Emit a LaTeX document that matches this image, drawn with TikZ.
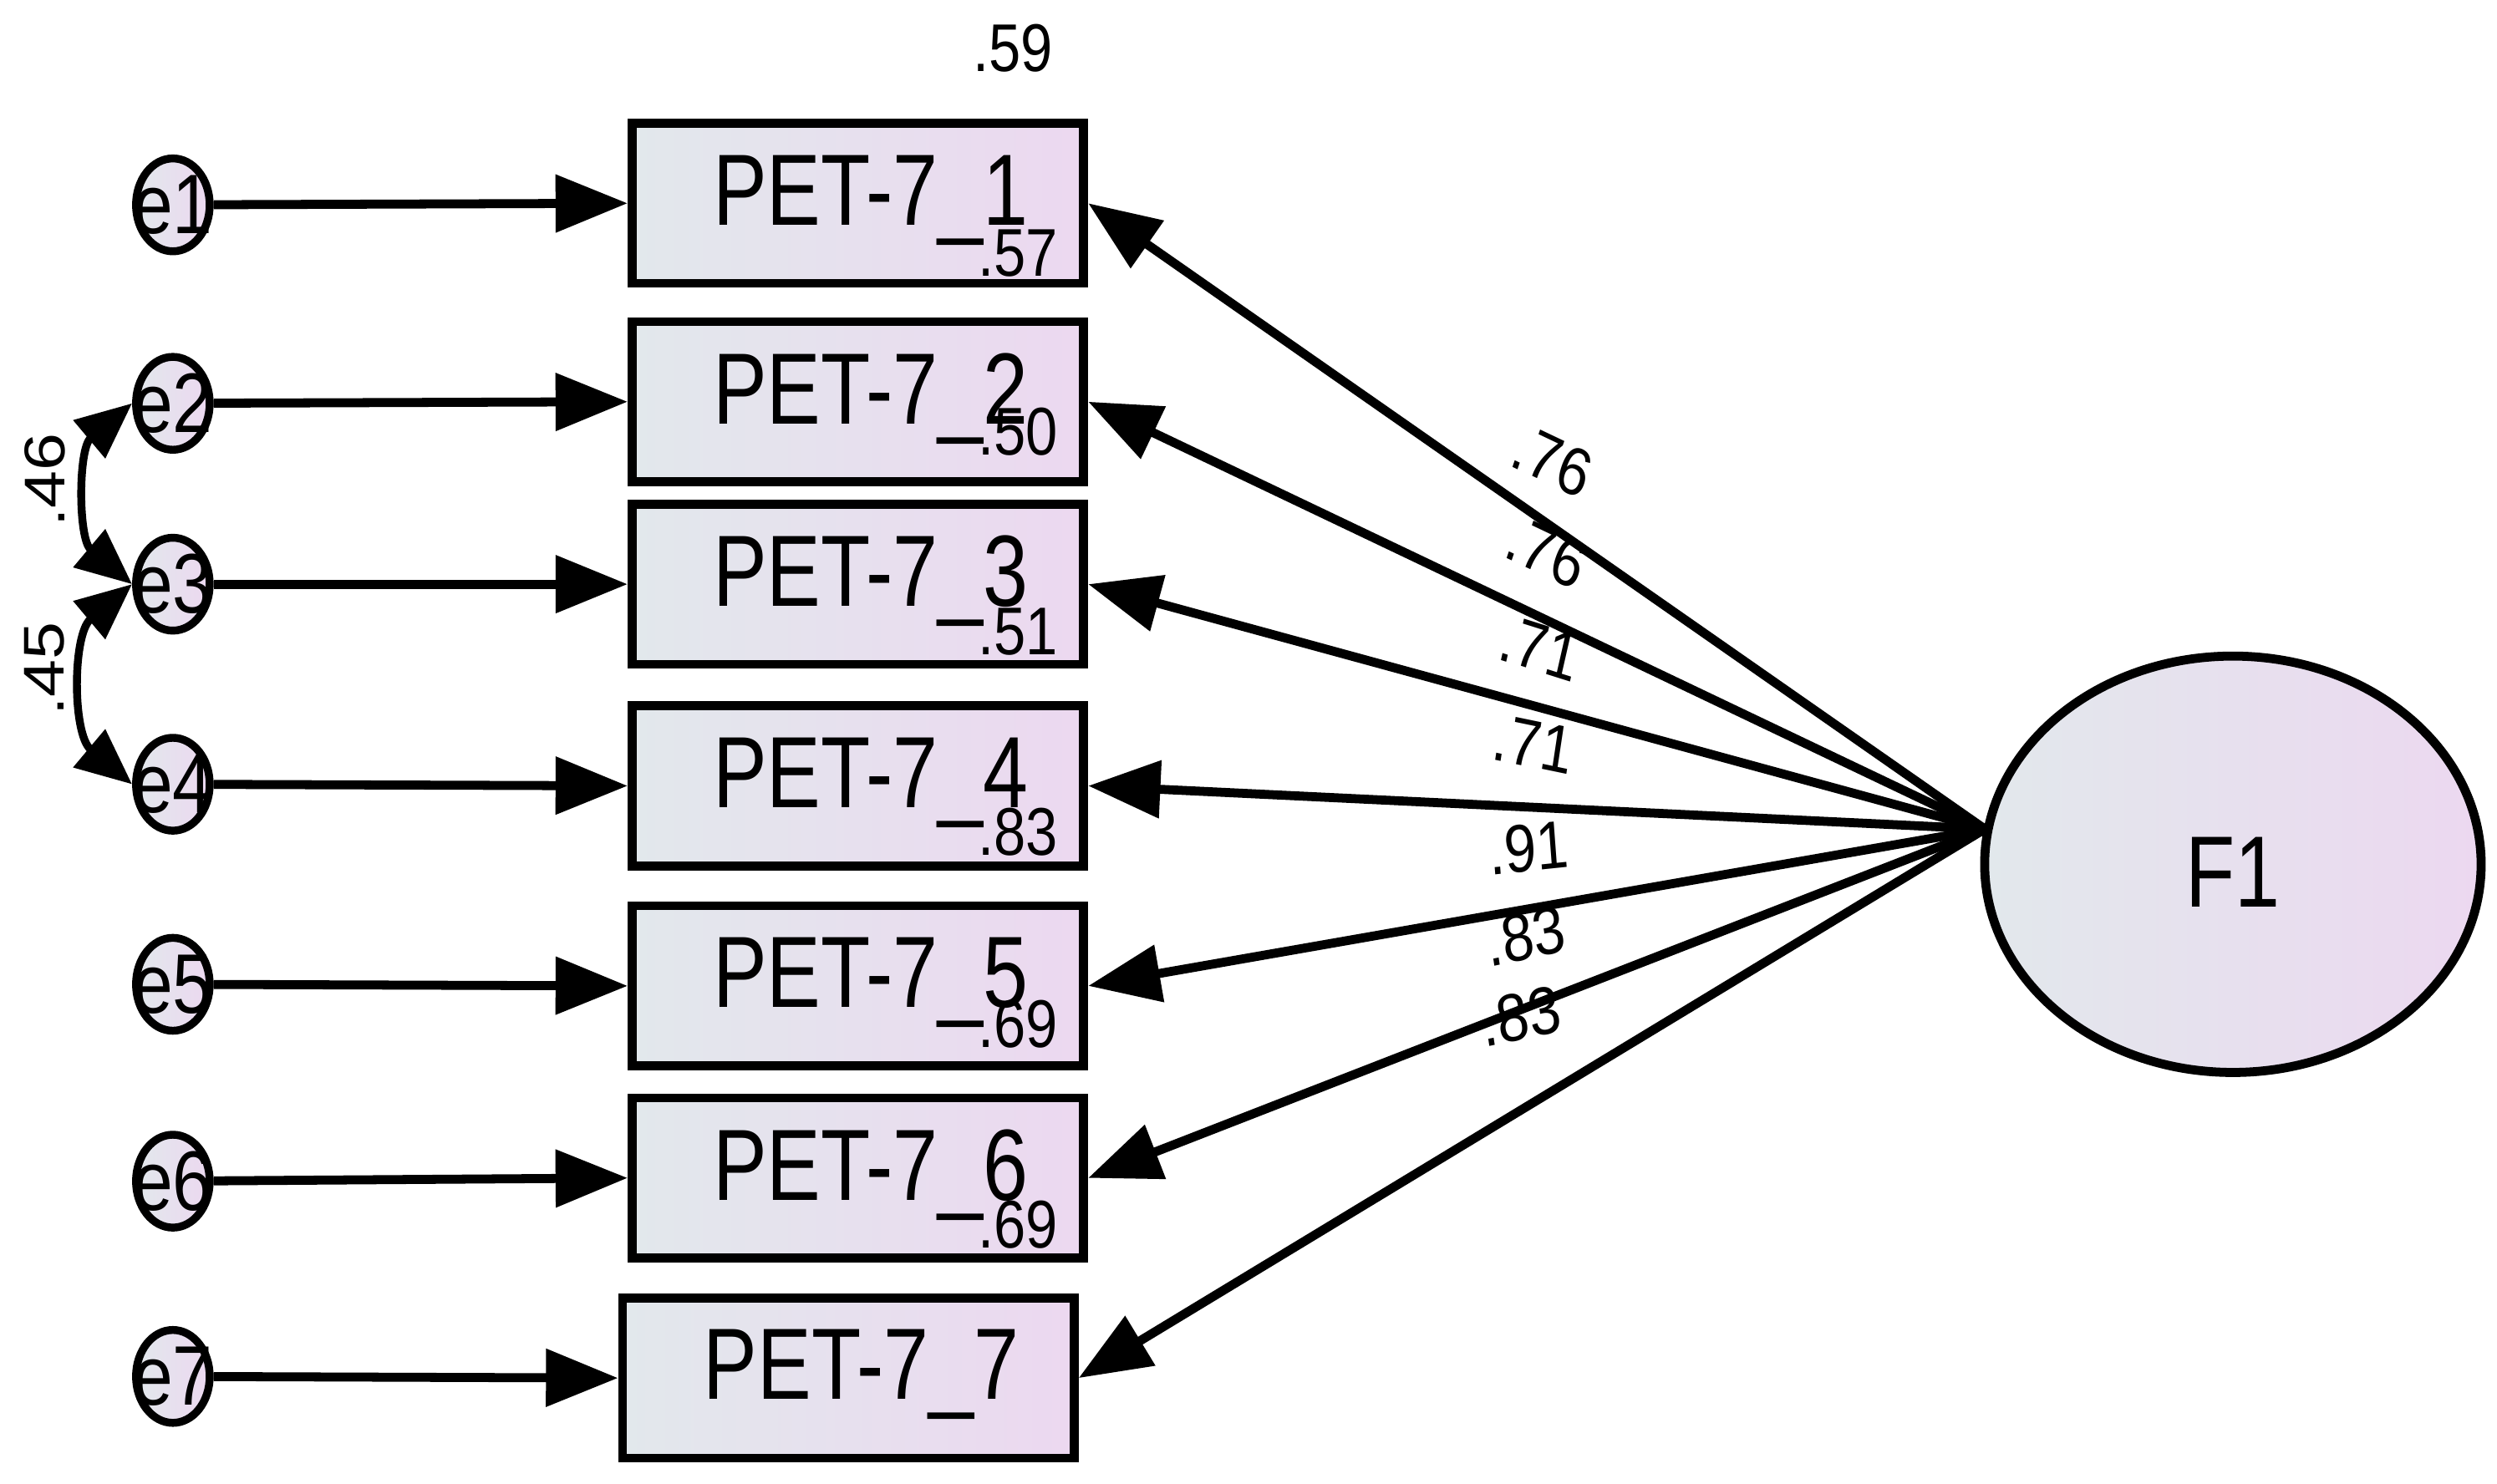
\documentclass[tikz,border=0pt]{standalone}
\usepackage{fontspec}
\setmainfont{Liberation Sans}
\usetikzlibrary{arrows.meta,shapes.geometric}
\definecolor{lav}{RGB}{236,216,240}
\definecolor{gr}{RGB}{226,232,236}
\begin{document}
\begin{tikzpicture}[x=0.01cm,y=-0.01cm,
 box/.style={draw,line width=1.6pt,left color=gr,right color=lav,minimum width=2.82cm,minimum height=1.0cm,inner sep=0pt},
 err/.style={draw,line width=1.4pt,ellipse,left color=gr,right color=lav,minimum width=0.46cm,minimum height=0.58cm,inner sep=0pt},
 arr/.style={line width=1.6pt,-{Triangle[length=0.45cm,width=0.35cm]}},
 bt/.style={font=\fontsize{18}{18}\selectfont,xscale=0.8},
 lt/.style={font=\fontsize{12}{12}\selectfont,xscale=0.85,inner sep=0pt}]
\useasboundingbox (0,0) rectangle (1560,927);
\foreach \i/\y in {1/128,2/252,3/365,4/490,5/615,6/738,7/860}{
  \node[err] (e\i) at (108,\y) {};
  \node[font=\fontsize{15}{15}\selectfont,xscale=0.85] (te\i) at (108,\y) {e\i};
}
\foreach \i/\y/\x in {1/127/536,2/251/536,3/365/536,4/491/536,5/616/536,6/736/536,7/861/530}{
  \node[box] (p\i) at (\x,\y) {};
  \node[bt] (tp\i) at (\x+8,\y-2) {PET-7\_\i};
  \draw[arr] (e\i) -- (p\i.west);
}
\node[draw,line width=1.6pt,ellipse,left color=gr,right color=lav,minimum width=3.1cm,minimum height=2.6cm] (F) at (1395,540) {};
\node[bt] (tF) at (1395,545) {F1};
\coordinate (c) at (1240,518);
\foreach \i in {1,...,7}{ \draw[arr] (c) -- (p\i.east); }
\draw[line width=1.4pt,{Triangle[length=0.35cm,width=0.3cm]}-{Triangle[length=0.35cm,width=0.3cm]}] (e2.west) to[bend right=50] (e3.west);
\draw[line width=1.4pt,{Triangle[length=0.35cm,width=0.3cm]}-{Triangle[length=0.35cm,width=0.3cm]}] (e3.west) to[bend right=50] (e4.west);
\node[lt,rotate=90] (l46) at (28,300) {.46};
\node[lt,rotate=90] (l45) at (28,418) {.45};
\node[lt] (r7) at (633,30) {.59};
\foreach \y/\t [count=\k] in {158/.57,270/.50,395/.51,520/.83,640/.69,765/.69}{ \node[lt] (r\k) at (636,\y) {\t}; }
\node[lt,rotate=-22] (a1) at (970,288) {.76};
\node[lt,rotate=-22] (a2) at (966,345) {.76};
\node[lt,rotate=-15] (a3) at (962,405) {.71};
\node[lt,rotate=-10] (a4) at (958,465) {.71};
\node[lt,rotate=5] (a5) at (955,530) {.91};
\node[lt,rotate=10] (a6) at (953,585) {.83};
\node[lt,rotate=10] (a7) at (950,635) {.83};
\end{tikzpicture}
\end{document}
